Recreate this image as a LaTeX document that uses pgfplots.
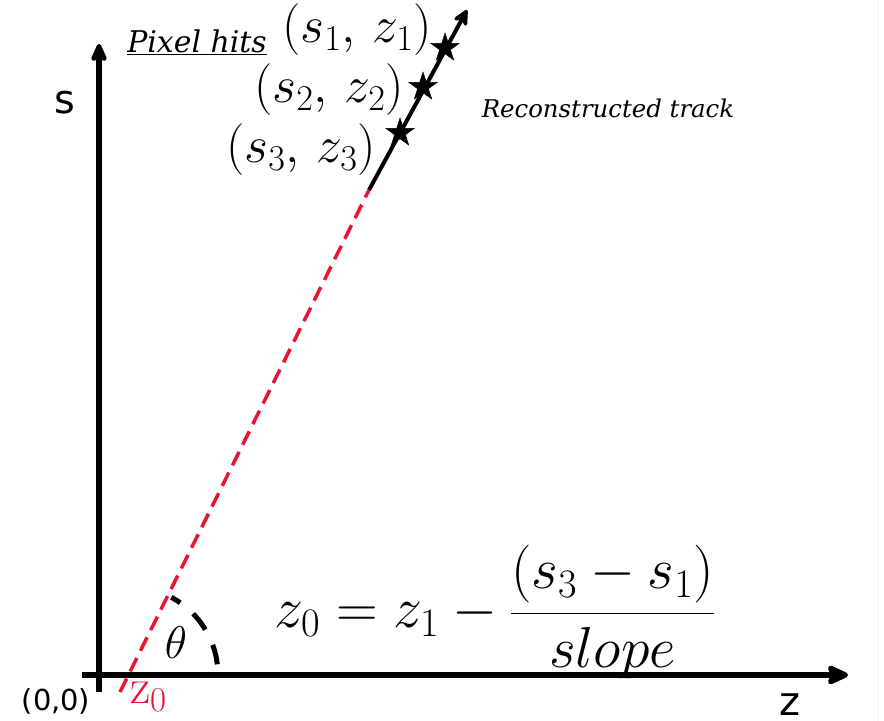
\RequirePackage{fix-cm}
\documentclass[border=0pt]{standalone}
\usepackage{pgfplots}
\pgfplotsset{compat=1.18}
\usepackage{fontspec}
\newfontfamily\dejasans{DejaVu Sans}
\newfontfamily\dejaserif{DejaVu Serif}
\usetikzlibrary{arrows.meta}
\definecolor{trackred}{RGB}{232,20,50}
\pgfdeclareplotmark{fstar}{%
  \pgfpathmoveto{\pgfpointpolar{90}{\pgfplotmarksize}}%
  \pgfpathlineto{\pgfpointpolar{126}{0.382\pgfplotmarksize}}%
  \pgfpathlineto{\pgfpointpolar{162}{\pgfplotmarksize}}%
  \pgfpathlineto{\pgfpointpolar{198}{0.382\pgfplotmarksize}}%
  \pgfpathlineto{\pgfpointpolar{234}{\pgfplotmarksize}}%
  \pgfpathlineto{\pgfpointpolar{270}{0.382\pgfplotmarksize}}%
  \pgfpathlineto{\pgfpointpolar{306}{\pgfplotmarksize}}%
  \pgfpathlineto{\pgfpointpolar{342}{0.382\pgfplotmarksize}}%
  \pgfpathlineto{\pgfpointpolar{18}{\pgfplotmarksize}}%
  \pgfpathlineto{\pgfpointpolar{54}{0.382\pgfplotmarksize}}%
  \pgfpathclose
  \pgfusepathqfillstroke}
\begin{document}
\begin{tikzpicture}
\begin{axis}[hide axis, scale only axis, width=884bp, height=721bp,
  xmin=0, xmax=884, ymin=0, ymax=721, clip=false]
% faint frame line at right
\addplot[gray!12, line width=1bp] coordinates {(878,0) (878,721)};
% axes
\addplot[black, line width=6.5bp, -{Stealth[length=26bp,width=23bp,inset=5bp,round]}]
  coordinates {(82,46) (848,46)};
\addplot[black, line width=6.5bp, -{Stealth[length=22bp,width=19bp,inset=4bp,round]}]
  coordinates {(99,29) (99,677)};
% extrapolated track
\addplot[trackred, line width=3.5bp, dash pattern=on 15bp off 8bp]
  coordinates {(120,29) (369,531)};
% reconstructed track
\addplot[black, line width=4bp, -{Stealth[length=20bp,width=19bp,round]}]
  coordinates {(369,531) (467,711)};
% hits
\addplot[only marks, mark=fstar, mark size=15bp, fill=black, draw=black]
  coordinates {(445,673) (423,634) (400,588)};
% angle arc
\addplot[black, line width=5bp, dash pattern=on 20bp off 17bp, smooth]
  coordinates {(217.3,56.7) (216.1,64.3) (214.2,71.7) (211.6,79.0) (208.4,86.0)
  (204.6,92.6) (200.3,99.0) (195.4,104.9) (190.0,110.4) (184.2,115.3)
  (177.9,119.8) (171.3,123.7)};
% labels
\node[font=\fontsize{52}{62}\selectfont] at (axis cs:357,691) {$(s_1,\,z_1)$};
\node[font=\fontsize{52}{62}\selectfont] at (axis cs:329,631) {$(s_2,\,z_2)$};
\node[font=\fontsize{52}{62}\selectfont] at (axis cs:301,571) {$(s_3,\,z_3)$};
\node[font=\dejaserif\itshape\fontsize{30}{34}\selectfont] at (axis cs:197,679) {\underline{Pixel hits}};
\node[font=\dejaserif\itshape\fontsize{24.5}{28}\selectfont] at (axis cs:608,613) {Reconstructed track};
\node[font=\dejasans\fontsize{40}{48}\selectfont] at (axis cs:65,618) {s};
\node[font=\dejasans\fontsize{40}{48}\selectfont] at (axis cs:790,16) {z};
\node[font=\dejasans\fontsize{29}{34}\selectfont] at (axis cs:56,20) {(0,0)};
\node[font=\fontsize{50}{60}\selectfont, text=trackred] at (axis cs:149,24) {$\mathrm{z}_{\mathrm{0}}$};
\node[font=\fontsize{46}{56}\selectfont] at (axis cs:176,78) {$\theta$};
\node[font=\fontsize{58}{68}\selectfont] at (axis cs:495,109) {$\displaystyle z_0 = z_1 - \frac{(s_3-s_1)}{slope}$};
\end{axis}
\pgfresetboundingbox
\path[use as bounding box] (current axis.south west) rectangle (current axis.north east);
\end{tikzpicture}
\end{document}
